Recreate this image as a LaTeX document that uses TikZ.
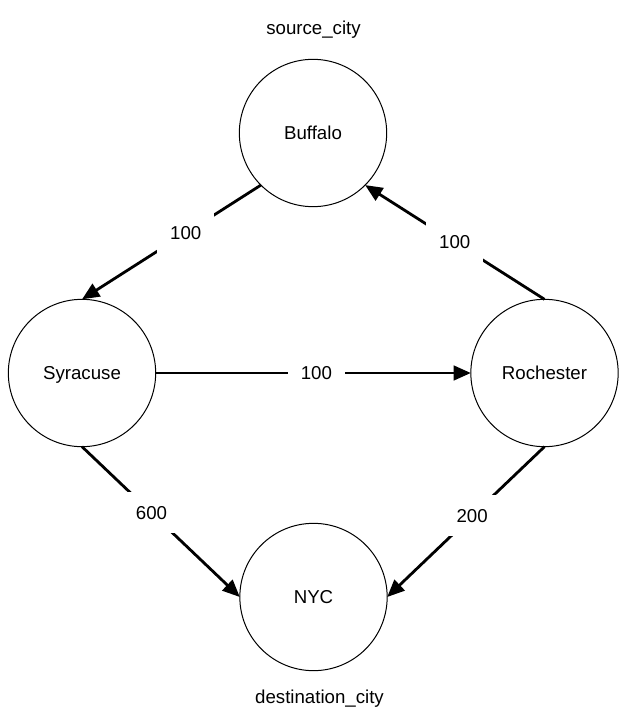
\documentclass[tikz,border=0pt]{standalone}
\usepackage{fontspec}
\setmainfont{Liberation Sans}
\usetikzlibrary{arrows.meta}
\tikzset{
  city/.style={circle, draw=black, line width=0.75pt, minimum size=110.5pt, inner sep=0pt, outer sep=0pt,
    font=\fontsize{14}{16}\selectfont, text height=10pt, text depth=0pt},
  edge/.style={line width=2.1pt, -{Triangle[length=13pt,width=11pt]}},
  lbl/.style={fill=white, inner sep=0pt, minimum width=43pt, minimum height=31pt,
    font=\fontsize{14}{16}\selectfont, text height=10pt, text depth=0pt},
  roletext/.style={font=\fontsize{14}{16}\selectfont, anchor=base, inner sep=0pt}
}
\begin{document}
\begin{tikzpicture}[x=0.75pt, y=-0.75pt]
\useasboundingbox (0,0) rectangle (636,720);
\node[city] (B) at (313,133) {Buffalo};
\node[city] (S) at (82,373) {Syracuse};
\node[city] (R) at (544.5,373) {Rochester};
\node[city] (N) at (313.5,597) {NYC};
\node[roletext] (src) at (313.5,35) {source\_city};
\node[roletext] (dst) at (319.5,703) {destination\_city};
\draw[edge] (B.225) -- node[lbl, pos=0.42] (l1) {100} (S.north);
\draw[edge] (R.north) -- node[lbl, pos=0.5] (l2) {100} (B.-45);
\draw[edge] (S.east) -- node[lbl, pos=0.51] (l3) {100} (R.west);
\draw[edge] (S.south) -- node[lbl, pos=0.44] (l4) {600} (N.west);
\draw[edge] (R.south) -- node[lbl, pos=0.46] (l5) {200} (N.east);
\end{tikzpicture}
\end{document}
